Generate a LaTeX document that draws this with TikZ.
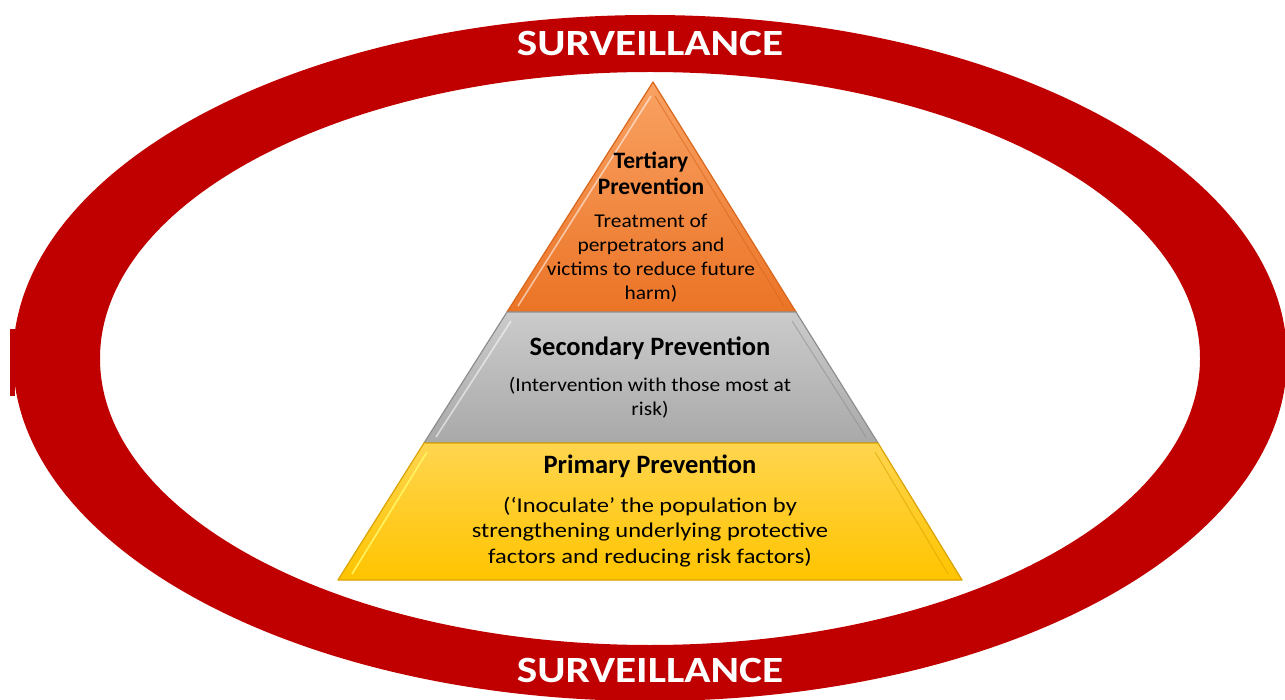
\documentclass[tikz,border=0pt]{standalone}
\usepackage{fontspec}
\setmainfont{Carlito}
\begin{document}
\begin{tikzpicture}[x={(1pt,0)},y={(0,-1pt)},
  survtext/.style={text=white,font=\fontsize{37}{40}\selectfont\bfseries,inner sep=0pt,xscale=1.17,transform shape},
  headtext/.style={font=\fontsize{26.5}{26}\selectfont\bfseries,align=center,inner sep=0pt},
  bodytext/.style={font=\fontsize{19.5}{23.8}\selectfont,align=center,inner sep=0pt,xscale=1.1,transform shape},
  bevelhi/.style={draw=white,opacity=0.55,line width=1.6pt,line join=round},
  bevello/.style={line width=1.2pt,line join=round}
]
\definecolor{ringred}{HTML}{C00000}
\definecolor{orTop}{HTML}{F9A263}
\definecolor{orBot}{HTML}{EB7426}
\definecolor{orEdge}{HTML}{D9661A}
\definecolor{grTop}{HTML}{CBCBCB}
\definecolor{grBot}{HTML}{A9A9A9}
\definecolor{grEdge}{HTML}{8E8E8E}
\definecolor{yeTop}{HTML}{FFD54F}
\definecolor{yeBot}{HTML}{FFC400}
\definecolor{yeEdge}{HTML}{D9A300}
\useasboundingbox (0,0) rectangle (1285,700);
\clip (0,0) rectangle (1285,700);
\fill[white] (0,0) rectangle (1285,700);
% ring
\fill[ringred,even odd rule] (650,358) ellipse [x radius=637,y radius=343]
      (650,358.5) ellipse [x radius=550,y radius=286.5];
\fill[ringred] (10,329) rectangle (15,396);
\node[survtext] (s1) at (650,44) {SURVEILLANCE};
\node[survtext] (s2) at (650,671) {SURVEILLANCE};
% pyramid
\coordinate (apex) at (653,82);
\coordinate (tl) at (507,312);
\coordinate (tr) at (796,312);
\coordinate (ml) at (424,443);
\coordinate (mr) at (878,443);
\coordinate (bl) at (338,580);
\coordinate (br) at (962,580);
% tertiary
\shade[top color=orTop,bottom color=orBot] (apex) -- (tr) -- (tl) -- cycle;
\draw[orEdge,bevello] (apex) -- (tr) -- (tl) -- cycle;
\draw[bevelhi] (651,96) -- (518,306);
\draw[orEdge,line width=1pt,opacity=0.6] (655,96) -- (784,306);
% secondary
\shade[top color=grTop,bottom color=grBot] (tl) -- (tr) -- (mr) -- (ml) -- cycle;
\draw[grEdge,bevello] (tl) -- (tr) -- (mr) -- (ml) -- cycle;
\draw[bevelhi] (511,321) -- (436,437);
\draw[grEdge,line width=1pt,opacity=0.6] (792,321) -- (866,437);
% primary
\shade[top color=yeTop,bottom color=yeBot] (ml) -- (mr) -- (br) -- (bl) -- cycle;
\draw[yeEdge,bevello] (ml) -- (mr) -- (br) -- (bl) -- cycle;
\draw[bevelhi,draw=yellow!60!white,opacity=0.9] (427,452) -- (352,574);
\draw[yeEdge,line width=1pt,opacity=0.6] (875,452) -- (948,574);
% texts
\node[headtext,font=\fontsize{23.5}{26}\selectfont\bfseries] (th) at (651,173) {Tertiary\\Prevention};
\node[bodytext] (tb) at (651,258) {Treatment of\\perpetrators and\\victims to reduce future\\harm)};
\node[headtext] (sh) at (650,348) {Secondary Prevention};
\node[bodytext] (sb) at (650,398) {(Intervention with those most at\\risk)};
\node[headtext] (ph) at (650,466) {Primary Prevention};
\node[bodytext,font=\fontsize{21}{25.5}\selectfont,xscale=1.06] (pb) at (650,532) {(‘Inoculate’ the population by\\strengthening underlying protective\\factors and reducing risk factors)};
\end{tikzpicture}
\end{document}
